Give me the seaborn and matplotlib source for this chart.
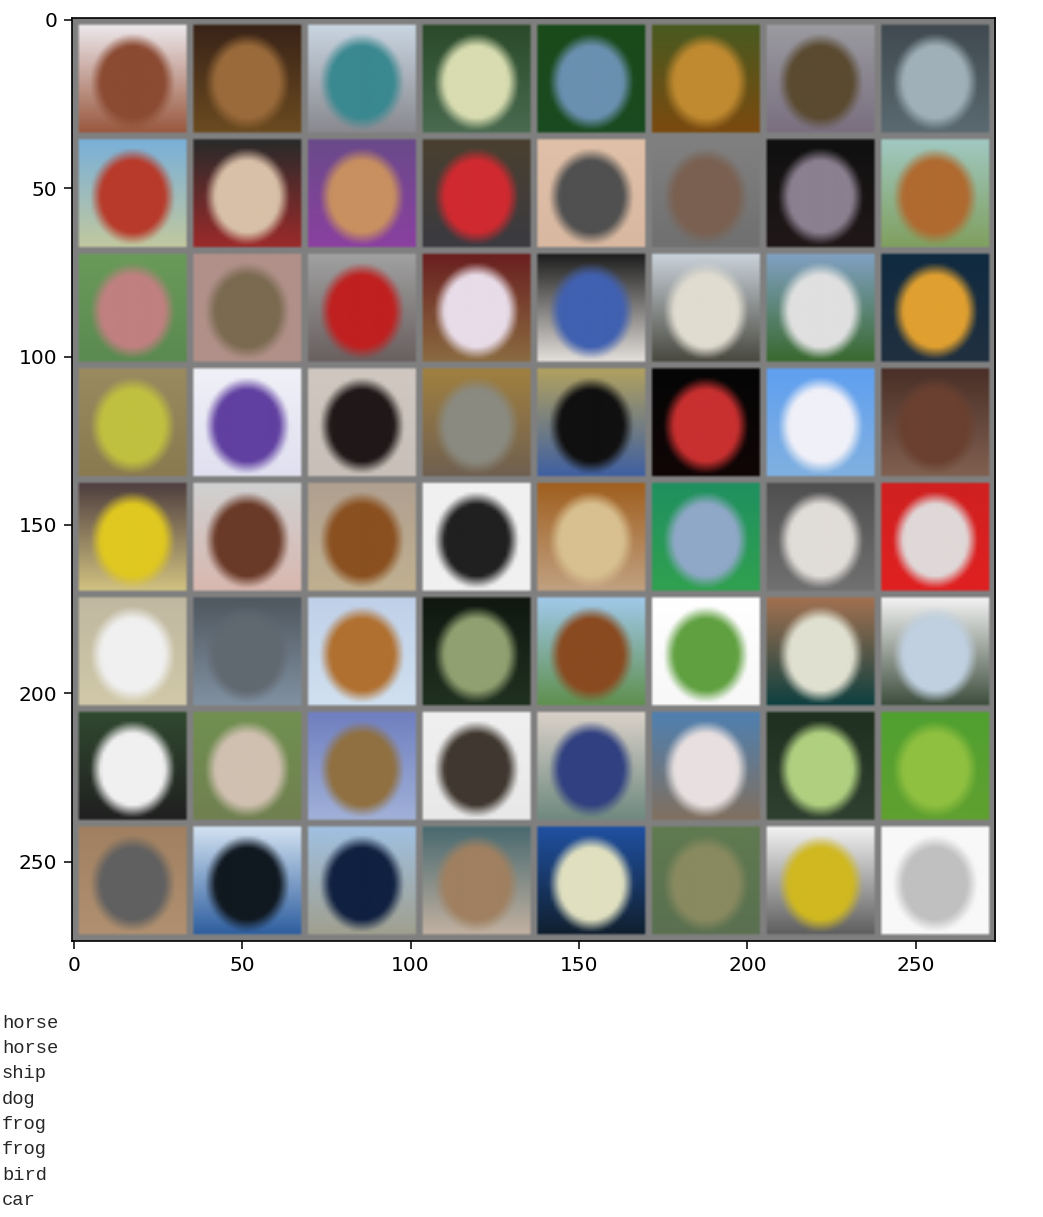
import numpy as np
import matplotlib
matplotlib.use("Agg")
import matplotlib.pyplot as plt
import seaborn as sns

# first-row class names printed under the grid
labels = ["horse", "horse", "ship", "dog", "frog", "frog", "bird", "car"]

# per tile colours, row by row (8 x 8)
top_colors = [
    "#ece6ea", "#3a2418", "#c8d4e0", "#2a4a2a", "#1a4a1a", "#4a5a20", "#9a9aa0", "#404a50",
    "#7ab0d8", "#2a2a2a", "#6a4a8a", "#4a4030", "#e0c0a8", "#808080", "#101010", "#a0c8c0",
    "#6a9a5a", "#b0908a", "#a0a0a0", "#6a2020", "#202020", "#c8d0d8", "#80a0c0", "#102a40",
    "#9a8a60", "#f0f0f8", "#d0c8c0", "#a08040", "#b0a060", "#050505", "#60a0f0", "#4a3028",
    "#504040", "#d0d0d0", "#b0a090", "#f0f0f0", "#a06020", "#209060", "#505050", "#d02020",
    "#c0b8a0", "#505860", "#c0d0e8", "#101810", "#a0c8e8", "#ffffff", "#a07050", "#f0f0f0",
    "#304830", "#709050", "#7080c0", "#f0f0f0", "#d8d0c8", "#5080b0", "#203020", "#50a030",
    "#a08060", "#d0e0f0", "#a0c0e0", "#4a6a70", "#2050a0", "#607a50", "#f0f0f0", "#f8f8f8",
]
bottom_colors = [
    "#9a5a40", "#6a4a20", "#8a8a90", "#4a6a50", "#1a4a20", "#7a4a10", "#7a7080", "#5a6a70",
    "#c0c8a0", "#9a2a2a", "#8a40a0", "#3a3a40", "#d8b8a0", "#707070", "#201818", "#80a060",
    "#5a8a50", "#b09088", "#6a6060", "#8a6a40", "#e0dcd8", "#4a4a40", "#3a6a30", "#203040",
    "#8a7a50", "#e0e0f0", "#c8c0b8", "#706050", "#4060a0", "#100505", "#80b0e0", "#806050",
    "#d0c080", "#d8b8b0", "#c0b090", "#f0f0f0", "#c0a080", "#30a050", "#707070", "#e02020",
    "#d0c8a8", "#8090a0", "#d0e0f0", "#203020", "#609050", "#f8f8f8", "#104040", "#405040",
    "#202020", "#708050", "#a0b0d8", "#e8e8e8", "#708a80", "#807060", "#304030", "#60a030",
    "#b09070", "#3060a0", "#a0a090", "#c0b0a0", "#102030", "#5a7050", "#606060", "#f8f8f8",
]
object_colors = [
    "#8b4a32", "#9a6a3a", "#3a8890", "#d8dcb0", "#6a90b0", "#c08a30", "#5a4a30", "#a0b0b8",
    "#b83a2a", "#d8c0a8", "#c89060", "#d02a30", "#505050", "#7a6050", "#8a8090", "#b06a30",
    "#c08080", "#7a6a50", "#c02020", "#e8dce8", "#4060b0", "#e0dcd0", "#e0e0e0", "#e0a030",
    "#c0c040", "#6040a0", "#201818", "#8a8a80", "#101010", "#c83030", "#f0f0f8", "#6a4030",
    "#e0c820", "#6a3a28", "#8a5020", "#202020", "#d8c090", "#90a8c8", "#e0dcd8", "#e0d8d8",
    "#f0f0f0", "#606870", "#b07030", "#90a070", "#8a4a20", "#60a040", "#e0e0d0", "#c0d0e0",
    "#f0f0f0", "#d0c0b0", "#907040", "#403830", "#304080", "#e8e0e0", "#b0d080", "#90c040",
    "#606060", "#101820", "#102040", "#a08060", "#e0e0c0", "#8a8a60", "#d0b820", "#c0c0c0",
]

n_cols = 8
size = 32
pad = 2
pad_value = 0.5

tops = np.array(sns.color_palette(top_colors))
bottoms = np.array(sns.color_palette(bottom_colors))
objs = np.array(sns.color_palette(object_colors))

n_rows = len(top_colors) // n_cols
grid = np.full((n_rows * (size + pad) + pad, n_cols * (size + pad) + pad, 3), pad_value)

yy, xx = np.mgrid[0:size, 0:size]
t = (yy / (size - 1))[..., None]
r = np.sqrt(((xx - 15.5) / 11.0) ** 2 + ((yy - 16.5) / 12.5) ** 2)
mask = np.clip((1.15 - r) / 0.3, 0, 1)[..., None]

for k in range(len(top_colors)):
    row, col = divmod(k, n_cols)
    tile = tops[k] * (1 - t) + bottoms[k] * t
    tile = tile * (1 - mask) + objs[k] * mask
    y0 = pad + row * (size + pad)
    x0 = pad + col * (size + pad)
    grid[y0:y0 + size, x0:x0 + size] = tile

sns.set_style("ticks")
plt.rcParams["font.family"] = ["DejaVu Sans"]

fig = plt.figure(figsize=(10.43, 12.17), dpi=100)
ax = fig.add_axes([72 / 1043, 1 - 941 / 1217, 923 / 1043, 923 / 1217])
ax.imshow(grid, interpolation="bilinear")
ax.set_xticks([0, 50, 100, 150, 200, 250])
ax.set_yticks([0, 50, 100, 150, 200, 250])
ax.tick_params(labelsize=14.5, length=5.5, width=1.1, pad=5,
               color="black", labelcolor="black")
for s in ax.spines.values():
    s.set_color("black")
    s.set_linewidth(1.2)

for i, name in enumerate(labels):
    fig.text(2 / 1043, 1 - (1023 + i * 25.4) / 1217, name,
             family=["Liberation Mono"], fontsize=13.5, va="center", ha="left")

fig.savefig("out.png", dpi=100, facecolor="white")
